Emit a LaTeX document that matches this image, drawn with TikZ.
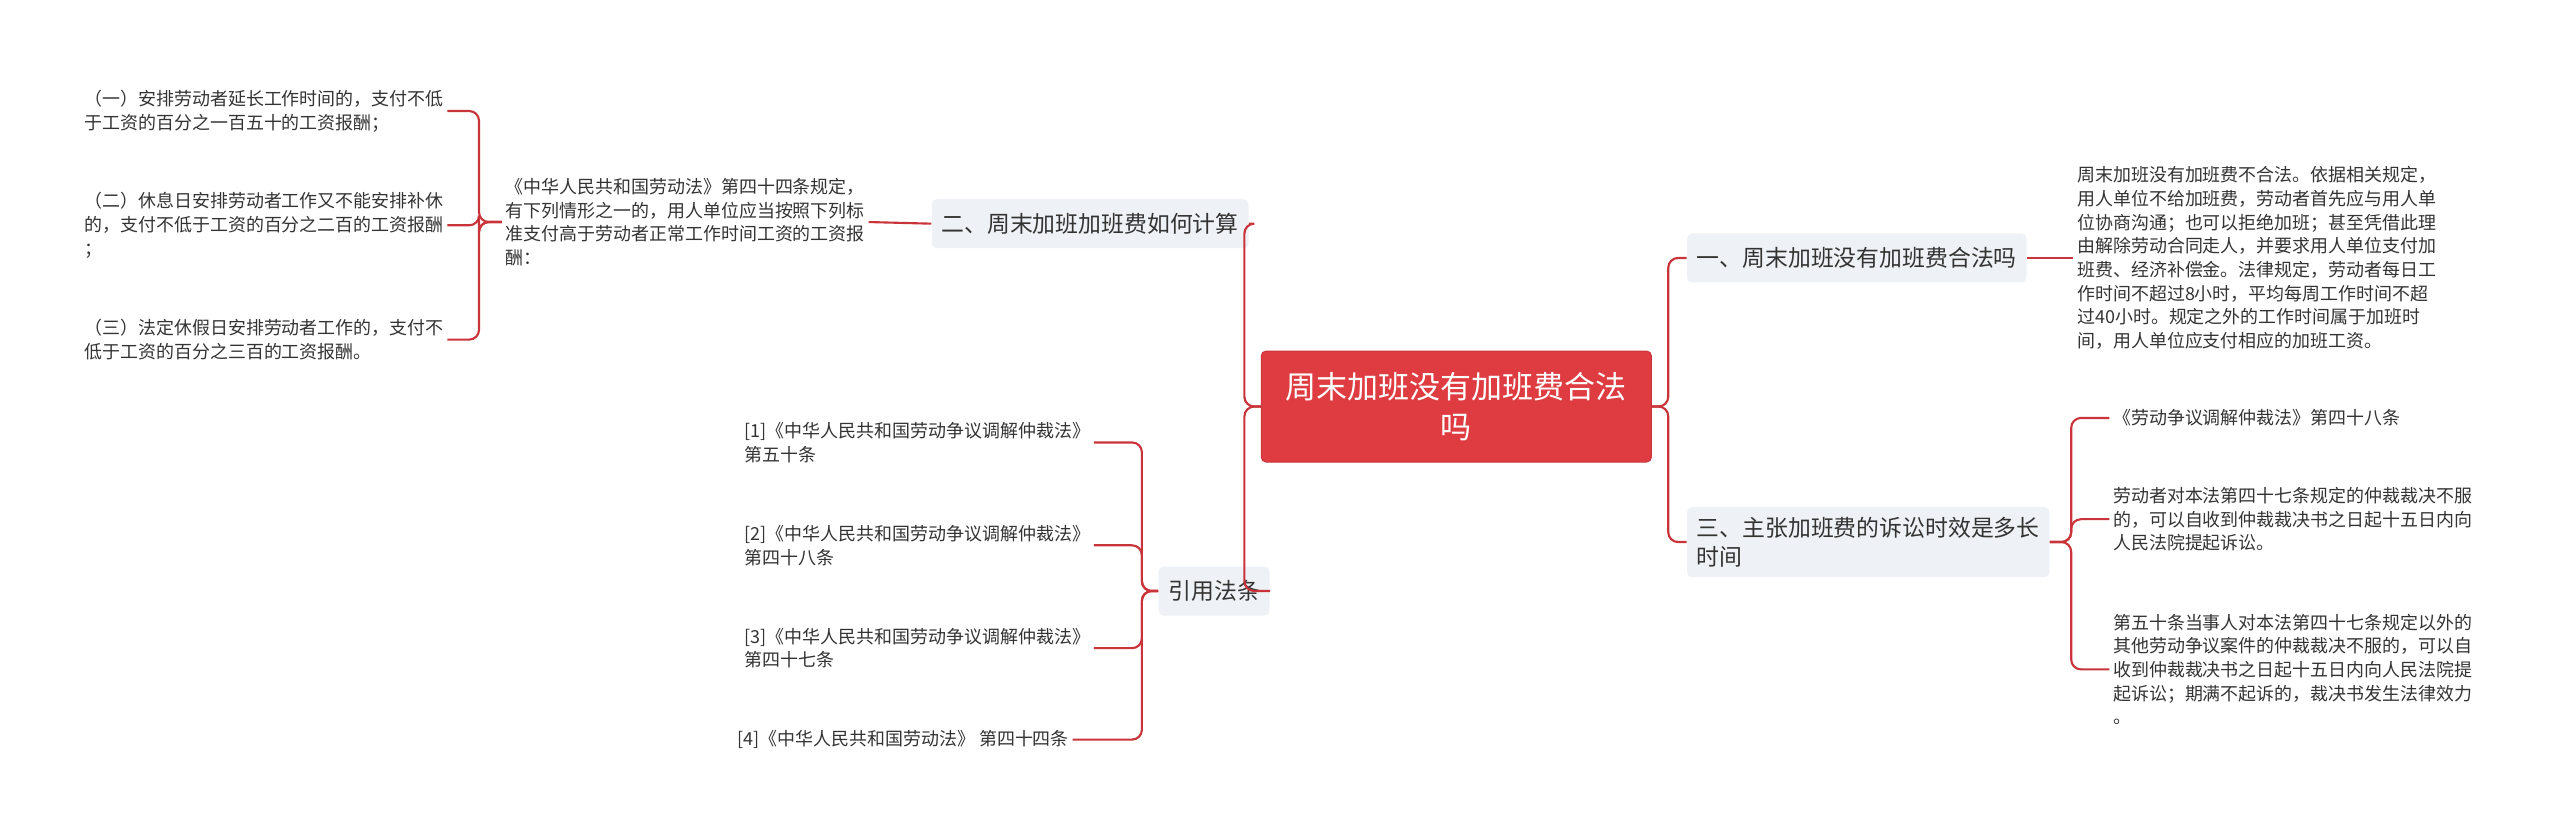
\documentclass[tikz,border=0pt]{standalone}
\usepackage{fontspec}
\setmainfont{Noto Sans CJK SC}
\usepackage{xcolor}
\usetikzlibrary{positioning}
\definecolor{linered}{HTML}{C9343A}
\definecolor{rootred}{HTML}{DF3C42}
\definecolor{branchgray}{HTML}{EEF1F5}
\definecolor{textgray}{HTML}{333333}

\begin{document}
\begin{tikzpicture}[x=1pt,y=-1pt,semithick]
\tikzstyle{root}=[fill=rootred,draw=linered,rounded corners=3pt,text=white,
  font=\fontsize{19}{24}\selectfont,align=center,minimum width=239pt,minimum height=68pt]
\tikzstyle{branch}=[fill=branchgray,rounded corners=3pt,text=textgray,
  font=\fontsize{14}{18}\selectfont,align=left,inner sep=6pt]
\tikzstyle{leaf}=[text=textgray,font=\fontsize{11}{14.5}\selectfont,align=left,inner sep=2pt]
\tikzstyle{link}=[draw=linered,line width=1.3pt,rounded corners=6pt]
\useasboundingbox (0,0) rectangle (1568,513);

\node[root] (ROOT) at (892,249) {周末加班没有加班费合法\\吗};

% right side
\node[branch,anchor=west,minimum height=30pt] (R1) at (1033,158) {一、周末加班没有加班费合法吗};
\node[leaf,anchor=west] (R1A) at (1270,158) {周末加班没有加班费不合法。依据相关规定，\\
用人单位不给加班费，劳动者首先应与用人单\\位协商沟通；也可以拒绝加班；甚至凭借此理\\
由解除劳动合同走人，并要求用人单位支付加\\班费、经济补偿金。法律规定，劳动者每日工\\
作时间不超过8小时，平均每周工作时间不超\\过40小时。规定之外的工作时间属于加班时\\间，用人单位应支付相应的加班工资。};
\node[branch,anchor=west] (R3) at (1033,332) {三、主张加班费的诉讼时效是多长\\时间};
\node[leaf,anchor=west] (R3A) at (1292,256) {《劳动争议调解仲裁法》第四十八条};
\node[leaf,anchor=west] (R3B) at (1292,318) {劳动者对本法第四十七条规定的仲裁裁决不服\\的，可以自收到仲裁裁决书之日起十五日内向\\人民法院提起诉讼。};
\node[leaf,anchor=west] (R3C) at (1292,410) {第五十条当事人对本法第四十七条规定以外的\\其他劳动争议案件的仲裁裁决不服的，可以自\\收到仲裁裁决书之日起十五日内向人民法院提\\起诉讼；期满不起诉的，裁决书发生法律效力\\。};

% left side
\node[branch,anchor=east,minimum height=30pt] (L2) at (765,137) {二、周末加班加班费如何计算};
\node[leaf,anchor=east] (L2A) at (532,136) {《中华人民共和国劳动法》第四十四条规定，\\有下列情形之一的，用人单位应当按照下列标\\准支付高于劳动者正常工作时间工资的工资报\\酬：};
\node[leaf,anchor=east] (L2A1) at (274,68) {（一）安排劳动者延长工作时间的，支付不低\\于工资的百分之一百五十的工资报酬；};
\node[leaf,anchor=east] (L2A2) at (274,138) {（二）休息日安排劳动者工作又不能安排补休\\的，支付不低于工资的百分之二百的工资报酬\\；};
\node[leaf,anchor=east] (L2A3) at (274,208) {（三）法定休假日安排劳动者工作的，支付不\\低于工资的百分之三百的工资报酬。};
\node[branch,anchor=east,minimum height=30pt] (L4) at (778,362) {引用法条};
\node[leaf,anchor=east] (L4A) at (670,271) {[1]《中华人民共和国劳动争议调解仲裁法》\\第五十条};
\node[leaf,anchor=east] (L4B) at (670,334) {[2]《中华人民共和国劳动争议调解仲裁法》\\第四十八条};
\node[leaf,anchor=east] (L4C) at (670,397) {[3]《中华人民共和国劳动争议调解仲裁法》\\第四十七条};
\node[leaf,anchor=east] (L4D) at (657,453) {[4]《中华人民共和国劳动法》 第四十四条};

\draw[link] (ROOT.east) -- ++(10,0) |- (R1.west);
\draw[link] (ROOT.east) -- ++(10,0) |- (R3.west);
\draw[link] (ROOT.west) -- ++(-10,0) |- (L2.east);
\draw[link] (ROOT.west) -- ++(-10,0) |- (L4.east);
\draw[link] (R1.east) -- (R1A.west);
\foreach \n in {R3A,R3B,R3C}
  \draw[link] (R3.east) -- ++(13,0) |- (\n.west);
\draw[link] (L2.west) -- (L2A.east);
\foreach \n in {L2A1,L2A2,L2A3}
  \draw[link] (L2A.west) -- ++(-14,0) |- (\n.east);
\foreach \n in {L4A,L4B,L4C,L4D}
  \draw[link] (L4.west) -- ++(-10,0) |- (\n.east);
\end{tikzpicture}
\end{document}
